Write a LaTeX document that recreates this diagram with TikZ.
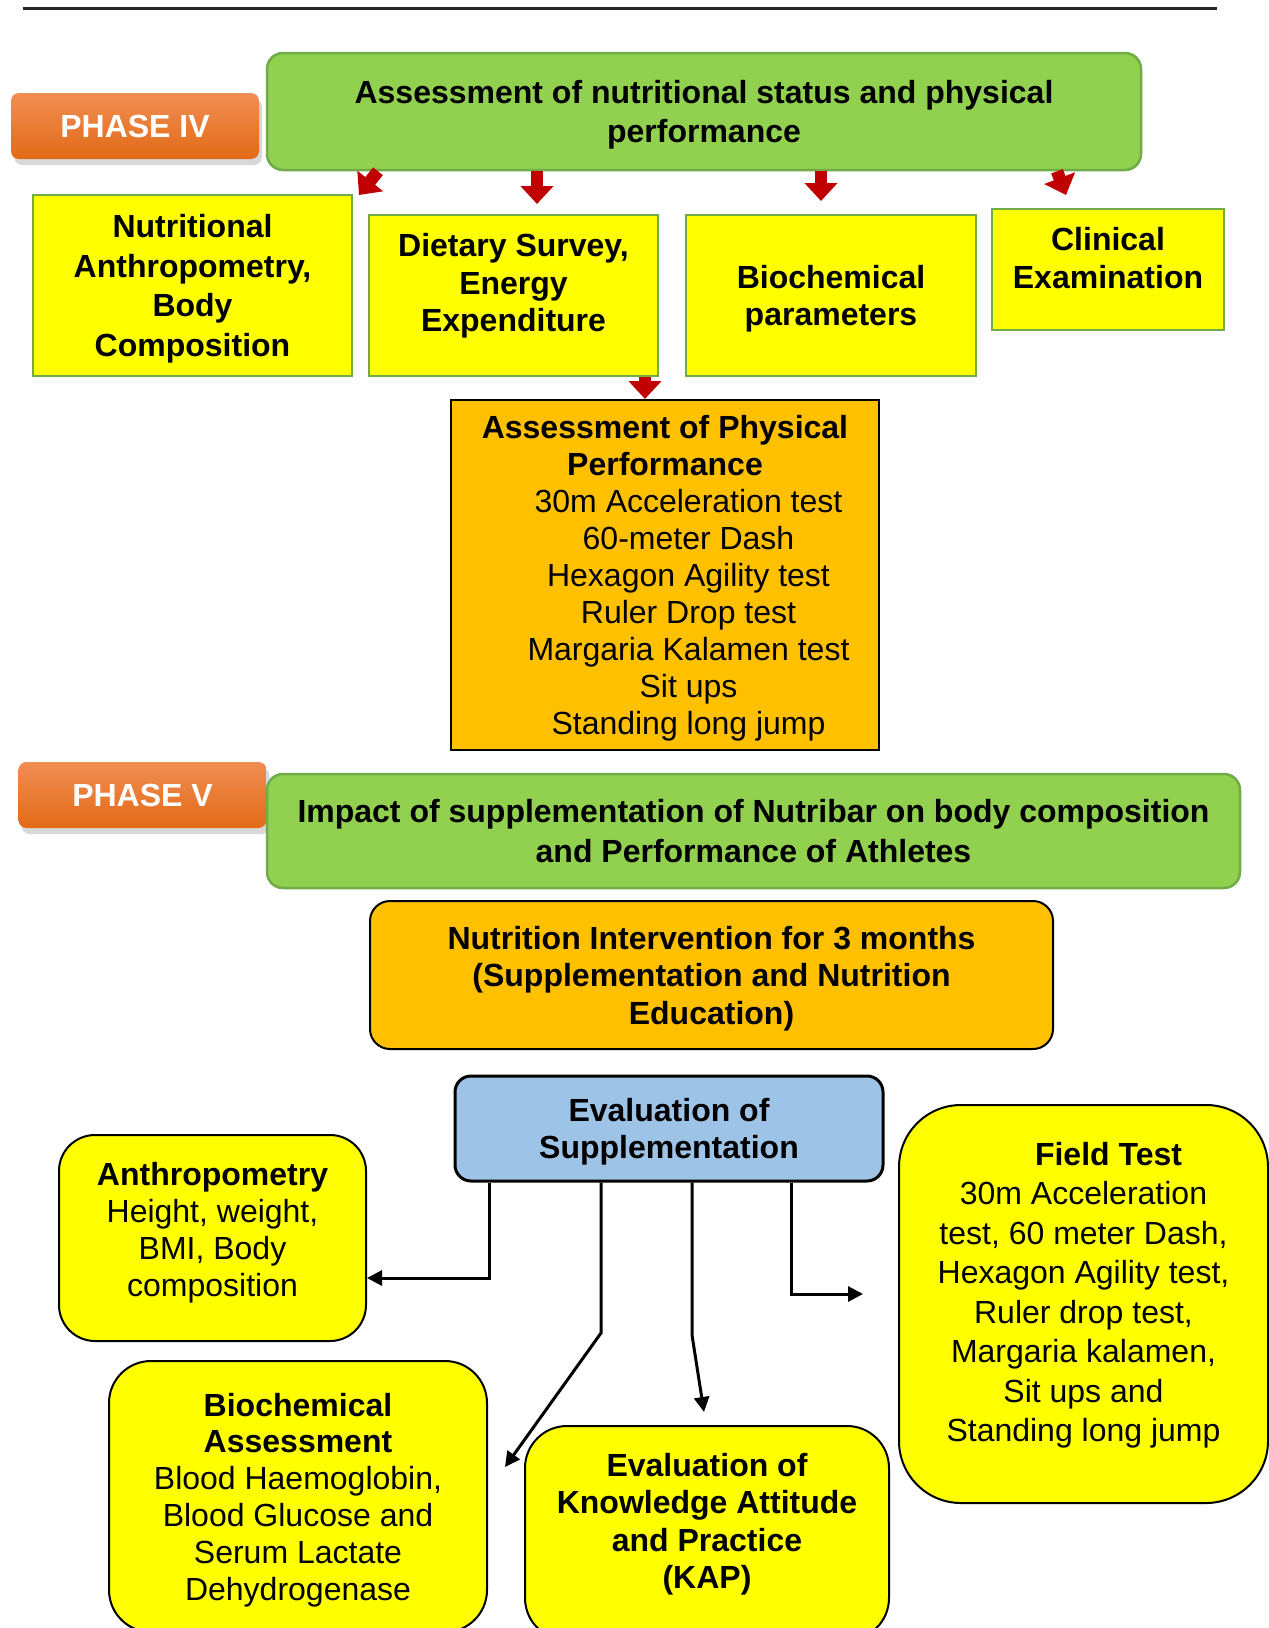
\documentclass[tikz,border=0pt]{standalone}
\usepackage{fontspec}
\setmainfont{Liberation Sans}
\usetikzlibrary{positioning,arrows.meta,shadows,calc}

\definecolor{phasetop}{RGB}{241,142,84}
\definecolor{phasemid}{RGB}{244,124,44}
\definecolor{phasebot}{RGB}{226,106,22}
\definecolor{leaf}{RGB}{146,208,80}
\definecolor{leafline}{RGB}{113,173,71}
\definecolor{lemon}{RGB}{255,255,0}
\definecolor{amber}{RGB}{255,192,0}
\definecolor{sky}{RGB}{157,195,230}
\definecolor{blockred}{RGB}{192,0,0}

\newcommand{\dgfont}[1][18.5pt]{\fontsize{16pt}{#1}\selectfont}

\begin{document}
\begin{tikzpicture}
  [x=.5pt,y=-.5pt,
   every node/.style={align=center, inner sep=0pt, text depth=0pt},
   phase/.style={rounded corners=4pt, top color=phasetop, middle color=phasemid, bottom color=phasebot,
                 text=white, font=\dgfont\bfseries, minimum width=124pt, minimum height=33pt,
                 drop shadow={shadow xshift=1.5pt, shadow yshift=-3pt, opacity=.3}},
   gbox/.style={draw=leafline, line width=1.25pt, fill=leaf, rounded corners=8pt, font={\dgfont[19.25pt]\bfseries}},
   ybox/.style={draw=leafline, line width=1.25pt, fill=lemon, font={\dgfont[18.7pt]\bfseries}},
   obox/.style={draw=black, line width=1pt, fill=amber, font=\dgfont},
   bbox/.style={draw=black, line width=1.5pt, fill=sky, rounded corners=8pt, font={\dgfont[18.2pt]\bfseries}},
   rbox/.style={draw=black, line width=1pt, fill=lemon, font={\dgfont[18.4pt]}},
   btext/.style={font={\dgfont[18.7pt]\bfseries}},
   ntext/.style={font={\dgfont[18.4pt]}},
   redarr/.style={draw=blockred, line width=6.25pt, -{Triangle[width=16pt,length=9pt]}},
   conn/.style={draw=black, line width=1.5pt, -{Triangle[width=7.5pt,length=7.5pt]}}]

  \path[fill=white, use as bounding box] (0,0) rectangle (1269,1628);
  \draw[line width=1.5pt, black!85] (23,8.5) -- (1217,8.5);

  % phase IV
  \node[phase] (ph4) at (135,126) {PHASE IV};
  \node[gbox, minimum width=437pt, minimum height=58.5pt] (assess) at (704,111.5)
    {Assessment of nutritional status and physical\\performance};

  \node[ybox, minimum width=159.5pt, minimum height=90.5pt, font={\dgfont[19.75pt]\bfseries}] (nutr) at (192.5,285.5)
    {Nutritional\\Anthropometry,\\Body\\Composition};
  \node[ybox, minimum width=144.5pt, minimum height=80.5pt] (diet) at (513.5,295.5) {};
  \node[btext] (dietTxt) at (513.5,282.5) {Dietary Survey,\\Energy\\Expenditure};
  \node[ybox, minimum width=145pt, minimum height=80.5pt] (bioc) at (831,295.5) {Biochemical\\parameters};
  \node[ybox, minimum width=116pt, minimum height=60.5pt] (clin) at (1108,269.5) {};
  \node[btext] (clinTxt) at (1108,258) {Clinical\\Examination};

  \node[obox, minimum width=214pt, minimum height=175pt] (phys) at (665,575)
    {\textbf{Assessment of Physical}\\\textbf{Performance}\\
     \hspace*{23.5pt}30m Acceleration test\\\hspace*{23.5pt}60-meter Dash\\
     \hspace*{23.5pt}Hexagon Agility test\\\hspace*{23.5pt}Ruler Drop test\\
     \hspace*{23.5pt}Margaria Kalamen test\\\hspace*{23.5pt}Sit ups\\
     \hspace*{23.5pt}Standing long jump};

  \draw[redarr] (assess.south -| 378,0) -- (359,195);
  \draw[redarr] (assess.south -| 537,0) -- (537,204);
  \draw[redarr] (assess.south -| 821,0) -- (821,201);
  \draw[redarr] (assess.south -| 1057,0) -- (1066,195);
  \draw[redarr] (diet.south -| 645,0) -- (phys.north -| 645,0);

  % phase V
  \node[phase] (ph5) at (142.5,795) {PHASE V};
  \node[gbox, minimum width=486.5pt, minimum height=57pt, font={\dgfont[19.75pt]\bfseries}] (impact) at (753.5,831)
    {Impact of supplementation of Nutribar on body composition\\and Performance of Athletes};

  \node[obox, rounded corners=10pt, minimum width=341.5pt, minimum height=74pt, font={\dgfont[18.7pt]\bfseries}] (interv) at (711.5,975)
    {Nutrition Intervention for 3 months\\(Supplementation and Nutrition\\Education)};

  \node[bbox, minimum width=214pt, minimum height=52.5pt] (evalsup) at (669,1128.5) {Evaluation of\\Supplementation};

  \node[rbox, rounded corners=18pt, minimum width=153.5pt, minimum height=103pt] (anthro) at (212.5,1238) {};
  \node[ntext] (anthroTxt) at (212.5,1229.5) {\textbf{Anthropometry}\\Height, weight,\\BMI, Body\\composition};

  \node[rbox, rounded corners=31pt, minimum width=184.5pt, minimum height=199pt] (field) at (1083.5,1304) {};
  \node[ntext, font={\dgfont[19.75pt]}] (fieldTxt) at (1083.5,1292)
    {\hspace*{25pt}\textbf{Field Test}\\30m Acceleration\\test, 60 meter Dash,\\Hexagon Agility test,\\Ruler drop test,\\Margaria kalamen,\\Sit ups and\\Standing long jump};

  \node[rbox, rounded corners=21pt, minimum width=189pt, minimum height=135.5pt] (bioass) at (298,1496.5)
    {\textbf{Biochemical}\\\textbf{Assessment}\\Blood Haemoglobin,\\Blood Glucose and\\Serum Lactate\\Dehydrogenase};

  \node[rbox, rounded corners=21pt, minimum width=182pt, minimum height=107pt] (kap) at (707,1533) {};
  \node[btext] (kapTxt) at (707,1521) {Evaluation of\\Knowledge Attitude\\and Practice\\(KAP)};

  \coordinate (bioTip) at (505,1467);
  \coordinate (kapTip) at (704,1412);
  \coordinate (fieldTip) at (863,1294);

  \draw[conn] (evalsup.south -| 489,0) |- ($(anthro.east)+(0,40)$);
  \draw[conn] (evalsup.south -| 601,0) -- (601,1333) -- (bioTip);
  \draw[conn] (evalsup.south -| 692,0) -- (692,1335) -- (kapTip);
  \draw[conn] (evalsup.south -| 791,0) |- (fieldTip);
\end{tikzpicture}
\end{document}
